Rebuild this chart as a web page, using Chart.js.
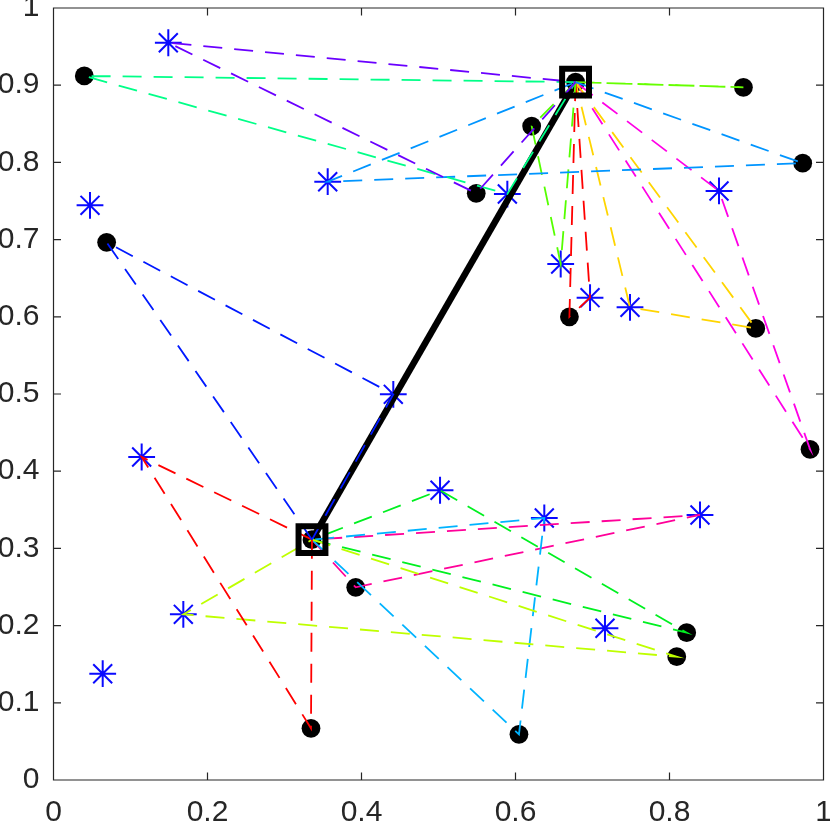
<!DOCTYPE html>
<html><head><meta charset="utf-8">
<script src="https://cdn.jsdelivr.net/npm/chart.js@4.4.1/dist/chart.umd.min.js"></script>
<style>html,body{margin:0;padding:0;background:#fff;overflow:hidden}#wrap{width:830px;height:827px;position:relative}</style>
</head><body><div id="wrap"><canvas id="c"></canvas></div>
<script>
// tick values
const xTicks = [0, 0.2, 0.4, 0.6, 0.8, 1];
const yTicks = [0, 0.1, 0.2, 0.3, 0.4, 0.5, 0.6, 0.7, 0.8, 0.9, 1];

// black filled points
const dotX = [0.040, 0.069, 0.549, 0.621, 0.678, 0.896, 0.973, 0.670, 0.912, 0.9825, 0.3357, 0.3925, 0.3344, 0.6045, 0.8094, 0.8223];
const dotY = [0.912, 0.6965, 0.760, 0.847, 0.904, 0.8973, 0.799, 0.600, 0.585, 0.4284, 0.3113, 0.2496, 0.067, 0.0592, 0.1597, 0.1908];

// blue asterisk points
const starX = [0.1491, 0.0474, 0.3561, 0.4413, 0.5894, 0.6587, 0.6968, 0.7487, 0.8643, 0.1145, 0.1686, 0.0639, 0.502, 0.6374, 0.8396, 0.7162];
const starY = [0.955, 0.7444, 0.775, 0.4996, 0.759, 0.6684, 0.6248, 0.6123, 0.763, 0.4184, 0.2146, 0.1377, 0.3753, 0.3394, 0.3433, 0.1965];

// cluster centres (squares)
const centerX = [0.678, 0.3357];
const centerY = [0.904, 0.3113];

// dashed triangles: centre -> dot -> asterisk -> centre
const groupCenter = [0, 0, 0, 0, 0, 0, 0, 0, 1, 1, 1, 1, 1, 1];
const groupDot    = [2, 0, 6, 3, 5, 7, 8, 9, 1, 12, 14, 15, 13, 11];
const groupStar   = [0, 4, 2, 5, -1, 6, 7, 8, 3, 9, 10, 12, 13, 14];
const groupColor  = ['#6a00ff', '#00ff88', '#0095ff', '#55ff00', '#66ff00', '#ff0000', '#ffd500', '#ff00e6',
                     '#0019ff', '#ff0000', '#bfff00', '#00f020', '#00b3ff', '#ff0099'];

const AXIS = '#262626';
const FONT = {family: "'Liberation Sans', Arial, Helvetica, sans-serif", size: 30};

const datasets = [];
// squares on top
datasets.push({
  data: centerX.map((x, i) => ({x, y: centerY[i]})),
  showLine: false, pointStyle: 'rect', pointRadius: 19, borderWidth: 6,
  borderColor: '#000', backgroundColor: 'rgba(0,0,0,0)', order: 0, clip: false
});
// coloured dashed triangles
groupDot.forEach((d, g) => {
  const c = groupCenter[g];
  const pts = [{x: centerX[c], y: centerY[c]}, {x: dotX[d], y: dotY[d]}];
  if (groupStar[g] >= 0) pts.push({x: starX[groupStar[g]], y: starY[groupStar[g]]});
  pts.push({x: centerX[c], y: centerY[c]});
  datasets.push({
    data: pts, showLine: true, pointRadius: 0, borderColor: groupColor[g],
    borderWidth: 1.8, borderDash: [19, 12], tension: 0, order: 1, clip: false
  });
});
// thick black line between centres
datasets.push({
  data: centerX.map((x, i) => ({x, y: centerY[i]})),
  showLine: true, pointRadius: 0, borderColor: '#000', borderWidth: 6.5, order: 2, clip: false
});
// asterisks
datasets.push({
  data: starX.map((x, i) => ({x, y: starY[i]})),
  showLine: false, pointStyle: 'star', pointRadius: 13.4, borderWidth: 2,
  borderColor: '#0a0aff', backgroundColor: '#0a0aff', order: 3, clip: false
});
// dots
datasets.push({
  data: dotX.map((x, i) => ({x, y: dotY[i]})),
  showLine: false, pointStyle: 'circle', pointRadius: 9.4, borderWidth: 0,
  borderColor: '#000', backgroundColor: '#000', order: 4, clip: false
});

const fmt = v => String(+(+v).toFixed(2));
const noPad = s => { s.paddingLeft = 0; s.paddingRight = 0; s.paddingTop = 0; s.paddingBottom = 0; };

const boxPlugin = {
  id: 'box',
  afterDatasetsDraw(chart) {
    const {ctx, chartArea: a, scales: {x, y}} = chart;
    ctx.save();
    ctx.strokeStyle = AXIS;
    ctx.lineWidth = 1.2;
    ctx.beginPath();
    ctx.rect(a.left, a.top, a.right - a.left, a.bottom - a.top);
    const L = 7.5;
    xTicks.forEach(v => {
      const px = x.getPixelForValue(v);
      ctx.moveTo(px, a.bottom); ctx.lineTo(px, a.bottom - L);
      ctx.moveTo(px, a.top); ctx.lineTo(px, a.top + L);
    });
    yTicks.forEach(v => {
      const py = y.getPixelForValue(v);
      ctx.moveTo(a.left, py); ctx.lineTo(a.left + L, py);
      ctx.moveTo(a.right, py); ctx.lineTo(a.right - L, py);
    });
    ctx.stroke();
    ctx.restore();
  }
};

new Chart(document.getElementById('c'), {
  type: 'scatter',
  data: {datasets},
  plugins: [boxPlugin],
  options: {
    responsive: true, maintainAspectRatio: false, animation: false, events: [],
    layout: {autoPadding: false, padding: {top: 8, right: 6.5, left: 0, bottom: 0}},
    plugins: {legend: {display: false}, tooltip: {enabled: false}},
    scales: {
      x: {
        type: 'linear', min: 0, max: 1,
        afterBuildTicks: s => { s.ticks = xTicks.map(v => ({value: v})); },
        afterFit: s => { s.height = 47; noPad(s); },
        grid: {display: false, drawTicks: false}, border: {display: false},
        ticks: {callback: fmt, color: AXIS, font: FONT, padding: 15, maxRotation: 0, autoSkip: false}
      },
      y: {
        type: 'linear', min: 0, max: 1,
        afterBuildTicks: s => { s.ticks = yTicks.map(v => ({value: v})); },
        afterFit: s => { s.width = 53.5; noPad(s); },
        grid: {display: false, drawTicks: false}, border: {display: false},
        ticks: {callback: fmt, color: AXIS, font: FONT, padding: 14, autoSkip: false}
      }
    }
  }
});
</script></body></html>
